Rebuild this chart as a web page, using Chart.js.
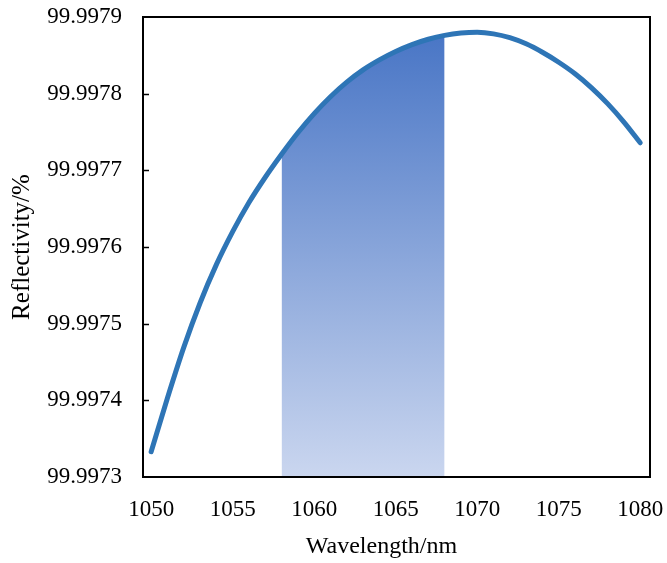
<!DOCTYPE html>
<html>
<head>
<meta charset="utf-8">
<script src="https://cdn.jsdelivr.net/npm/chart.js@4.4.1/dist/chart.umd.min.js"></script>
<style>
  html, body { margin: 0; padding: 0; background: #fff; }
  #wrap { width: 667px; height: 563px; }
</style>
</head>
<body>
<div id="wrap"><canvas id="chartRefl" width="667" height="563"></canvas></div>
<script>
// values
const wavelengths = [1050, 1051, 1052, 1053, 1054, 1055, 1056, 1057, 1058, 1059, 1060,
  1061, 1062, 1063, 1064, 1065, 1066, 1067, 1068, 1069, 1070,
  1071, 1072, 1073, 1074, 1075, 1076, 1077, 1078, 1079, 1080];
const reflectivity = [99.997333, 99.997403, 99.997469, 99.997527, 99.997577, 99.997620, 99.997658, 99.997691, 99.997721, 99.997749, 99.997774,
  99.997796, 99.997815, 99.997831, 99.997844, 99.997855, 99.997864, 99.997871, 99.997876, 99.997879, 99.997880,
  99.997878, 99.997873, 99.997865, 99.997854, 99.997841, 99.997826, 99.997808, 99.997787, 99.997763, 99.997736];
const bandStart = 1058;
const bandEnd = 1068;
const xTicks = [1050, 1055, 1060, 1065, 1070, 1075, 1080];
const yTicks = [99.9973, 99.9974, 99.9975, 99.9976, 99.9977, 99.9978, 99.9979];

const curve = wavelengths.map((w, i) => ({x: w, y: reflectivity[i]}));
const band = curve.filter(p => p.x >= bandStart && p.x <= bandEnd);

const serif = '"Liberation Serif", "Times New Roman", serif';
const font = { family: serif, size: 23 };

const frame = {
  id: 'frame',
  afterDatasetsDraw(chart) {
    const c = chart.ctx, a = chart.chartArea, y = chart.scales.y;
    c.save();
    c.strokeStyle = '#000';
    c.lineWidth = 2;
    c.strokeRect(a.left, a.top, a.right - a.left, a.bottom - a.top);
    c.lineWidth = 1.5;
    yTicks.slice(1, -1).forEach(v => {
      const py = Math.round(y.getPixelForValue(v)) + 0.5;
      c.beginPath();
      c.moveTo(a.left, py);
      c.lineTo(a.left + 6, py);
      c.stroke();
    });
    c.restore();
  }
};

const ctx = document.getElementById('chartRefl').getContext('2d');

const myChart = new Chart(ctx, {
  type: 'line',
  data: {
    datasets: [{
      label: 'Reflectivity',
      data: curve,
      borderColor: '#2E75B6',
      borderWidth: 5,
      borderCapStyle: 'round',
      pointRadius: 0,
      cubicInterpolationMode: 'monotone',
      fill: false,
      order: 0
    }, {
      label: 'band',
      data: band,
      borderWidth: 0,
      pointRadius: 0,
      cubicInterpolationMode: 'monotone',
      fill: 'start',
      backgroundColor: (context) => {
        const area = context.chart.chartArea;
        if (!area) return 'rgba(68,114,196,0.6)';
        const g = context.chart.ctx.createLinearGradient(0, area.top, 0, area.bottom);
        g.addColorStop(0, '#4472C4');
        g.addColorStop(1, '#CAD6EF');
        return g;
      },
      order: 1
    }]
  },
  options: {
    responsive: false,
    animation: false,
    layout: { padding: { left: 0, right: 17, top: 17, bottom: 0 } },
    plugins: { legend: { display: false }, tooltip: { enabled: false } },
    scales: {
      x: {
        type: 'linear',
        min: 1049.5,
        max: 1080.6,
        afterBuildTicks: (axis) => { axis.ticks = xTicks.map(v => ({value: v})); },
        afterFit: (axis) => { axis.height = 86; axis.paddingLeft = 0; axis.paddingRight = 0; },
        grid: { display: false, drawTicks: false },
        border: { display: false },
        ticks: { color: '#000', font: font, padding: 19, maxRotation: 0, callback: (v) => String(v) },
        // trailing spaces nudge the centred title a bit to the left, as in the original
        title: { display: true, text: 'Wavelength/nm\u00a0\u00a0\u00a0\u00a0\u00a0', color: '#000',
                 font: { family: serif, size: 24 }, padding: { top: 0, bottom: 2 } }
      },
      y: {
        min: 99.9973,
        max: 99.9979,
        afterBuildTicks: (axis) => { axis.ticks = yTicks.map(v => ({value: v})); },
        afterFit: (axis) => { axis.width = 143; axis.paddingTop = 0; axis.paddingBottom = 0; },
        grid: { display: false, drawTicks: false },
        border: { display: false },
        ticks: { color: '#000', font: font, padding: 21, callback: (v) => Number(v).toFixed(4) },
        title: { display: true, text: 'Reflectivity/%', color: '#000',
                 font: { family: serif, size: 25 }, padding: { top: 7, bottom: 0 } }
      }
    }
  },
  plugins: [frame]
});
</script>
</body>
</html>
